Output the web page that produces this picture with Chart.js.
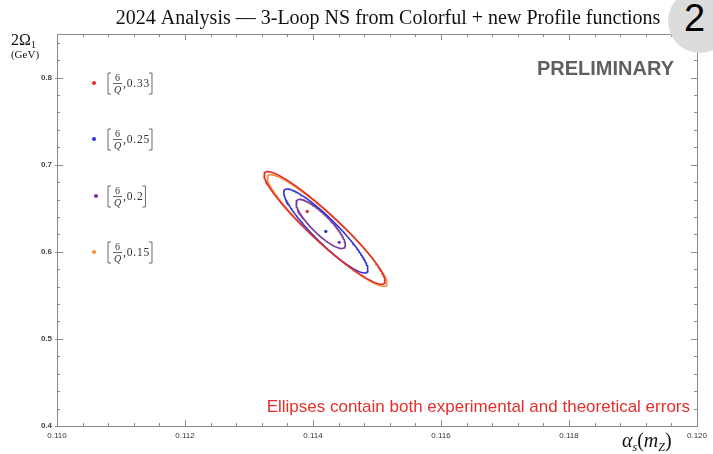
<!DOCTYPE html>
<html><head><meta charset="utf-8">
<script src="https://cdn.jsdelivr.net/npm/chart.js@4.4.1/dist/chart.umd.min.js"></script>
<style>
html,body{margin:0;padding:0;background:#fff;}
#wrap{position:relative;width:713px;height:454px;overflow:hidden;background:#fff;}
canvas{display:block;}
#badge{position:absolute;left:668px;top:-11px;width:64px;height:64px;border-radius:50%;background:#dcdcdc;}
#badge span{position:absolute;left:16px;top:10px;font:38px "Liberation Sans",Arial,sans-serif;color:#000;line-height:38px;}
</style></head>
<body><div id="wrap"><canvas id="c" width="713" height="454"></canvas><div id="badge"><span>2</span></div></div>
<script>
// ---- data ----
const profileValues = ['0.33', '0.25', '0.2', '0.15'];
const seriesNames = ['[6/Q, 0.33]', '[6/Q, 0.25]', '[6/Q, 0.2]', '[6/Q, 0.15]'];
const seriesColors = ['#e3302c', '#3535d6', '#7a3a96', '#f2933f'];
// uncertainty ellipses (centre, half-extent in x and y, correlation)
const ellipseCenterX = [0.11418, 0.11420, 0.11412, 0.11422];
const ellipseCenterY = [0.6274, 0.6239, 0.6320, 0.6245];
const ellipseSigmaX  = [0.000945, 0.000658, 0.000385, 0.000935];
const ellipseSigmaY  = [0.0647, 0.0482, 0.0282, 0.0641];
const ellipseRho     = [-0.942, -0.919, -0.851, -0.944];
// central values (best fits)
const centralX = [0.11391, 0.11420, 0.11441];
const centralY = [0.6463, 0.6234, 0.6108];
const centralColors = ['#e3302c', '#3535d6', '#7a3a96'];
// axes
const xTicks = [0.110, 0.112, 0.114, 0.116, 0.118, 0.120];
const yTicks = [0.4, 0.5, 0.6, 0.7, 0.8];
const xRange = [0.110, 0.120];
const yRange = [0.4, 0.85];

function ellipsePoints(i, n) {
  const pts = [];
  const r = ellipseRho[i], s = Math.sqrt(1 - r * r);
  for (let k = 0; k <= n; k++) {
    const t = 2 * Math.PI * k / n;
    pts.push({x: ellipseCenterX[i] + ellipseSigmaX[i] * Math.cos(t),
              y: ellipseCenterY[i] + ellipseSigmaY[i] * (r * Math.cos(t) + s * Math.sin(t))});
  }
  return pts;
}

const datasets = [];
for (let i = 0; i < seriesNames.length; i++) {
  datasets.push({label: seriesNames[i], data: ellipsePoints(i, 240), showLine: true,
    borderColor: seriesColors[i], borderWidth: 1.6, pointRadius: 0, fill: false, tension: 0});
}
datasets.push({label: 'central values', data: centralX.map((x, i) => ({x: x, y: centralY[i]})),
  showLine: false, pointRadius: 1.7, pointBackgroundColor: centralColors, pointBorderWidth: 0});

const FRAME = '#8c8c8c';
const decor = {
  id: 'decor',
  afterDraw(chart) {
    const ctx = chart.ctx, a = chart.chartArea, xs = chart.scales.x, ys = chart.scales.y;
    ctx.save();
    // frame
    ctx.strokeStyle = FRAME; ctx.lineWidth = 1;
    ctx.strokeRect(Math.round(a.left) + 0.5, Math.round(a.top) + 0.5, Math.round(a.right - a.left), Math.round(a.bottom - a.top));
    // ticks (inside, on all four sides)
    ctx.beginPath();
    const xt = (v, len) => { const p = Math.round(xs.getPixelForValue(v)) + 0.5;
      ctx.moveTo(p, a.bottom); ctx.lineTo(p, a.bottom - len); ctx.moveTo(p, a.top); ctx.lineTo(p, a.top + len); };
    const yt = (v, len) => { const p = Math.round(ys.getPixelForValue(v)) + 0.5;
      ctx.moveTo(a.left, p); ctx.lineTo(a.left + len, p); ctx.moveTo(a.right, p); ctx.lineTo(a.right - len, p); };
    for (let k = 0; k <= 25; k++) { const v = xRange[0] + k * 0.0004; xt(v, k % 5 === 0 ? 6 : 3); }
    for (let k = 0; k <= 22; k++) { const v = yRange[0] + k * 0.02; yt(v, k % 5 === 0 ? 6 : 3); }
    yTicks.forEach(v => { const p = Math.round(ys.getPixelForValue(v)) + 0.5; ctx.moveTo(a.left - 2, p); ctx.lineTo(a.left, p); });
    ctx.stroke();

    // title
    ctx.fillStyle = '#111'; ctx.textAlign = 'center'; ctx.textBaseline = 'alphabetic';
    ctx.font = '20px "Liberation Serif", serif';
    ctx.fillText('2024 Analysis \u2014 3-Loop NS from Colorful + new Profile functions', 388, 24);

    // y-axis title
    ctx.textAlign = 'left';
    ctx.font = '16px "Liberation Serif", serif';
    ctx.fillText('2\u03A9', 11, 45);
    const w = ctx.measureText('2\u03A9').width;
    ctx.font = '10px "Liberation Serif", serif';
    ctx.fillText('1', 11 + w, 48);
    ctx.textAlign = 'center';
    ctx.font = '11px "Liberation Serif", serif';
    ctx.fillText('(GeV)', 25, 58);

    // x-axis title alpha_s(m_Z)
    let x = 622; const by = 447;
    ctx.textAlign = 'left';
    const piece = (t, f, dy) => { ctx.font = f; ctx.fillText(t, x, by + (dy || 0)); x += ctx.measureText(t).width; };
    piece('\u03B1', 'italic 20px "Liberation Serif", serif');
    piece('s', 'italic 12px "Liberation Serif", serif', 4);
    piece('(', '20px "Liberation Serif", serif');
    piece('m', 'italic 20px "Liberation Serif", serif');
    piece('Z', 'italic 12px "Liberation Serif", serif', 4);
    piece(')', '20px "Liberation Serif", serif');

    // PRELIMINARY
    ctx.fillStyle = '#5f5f5f'; ctx.textAlign = 'right';
    ctx.font = 'bold 20px "Liberation Sans", Arial, sans-serif';
    ctx.fillText('PRELIMINARY', 674, 75);

    // note
    ctx.fillStyle = '#e3302c';
    ctx.font = '17px "Liberation Sans", Arial, sans-serif';
    ctx.fillText('Ellipses contain both experimental and theoretical errors', 690, 412);

    // legend
    const ly = [83, 139, 196, 252];
    for (let i = 0; i < profileValues.length; i++) {
      const cy = ly[i];
      ctx.fillStyle = seriesColors[i];
      ctx.beginPath(); ctx.arc(i === 2 ? 96 : 94, cy, 2.1, 0, 2 * Math.PI); ctx.fill();
      ctx.fillStyle = '#333'; ctx.strokeStyle = '#444'; ctx.lineWidth = 0.8;
      const bx = 108;
      ctx.beginPath(); ctx.moveTo(bx + 3, cy - 10); ctx.lineTo(bx, cy - 10); ctx.lineTo(bx, cy + 11); ctx.lineTo(bx + 3, cy + 11); ctx.stroke();
      ctx.textAlign = 'center';
      ctx.font = '10px "Liberation Serif", serif';
      ctx.fillText('6', bx + 9.5, cy - 2);
      ctx.beginPath(); ctx.moveTo(bx + 5, cy + 0.5); ctx.lineTo(bx + 14, cy + 0.5); ctx.stroke();
      ctx.font = 'italic 10px "Liberation Serif", serif';
      ctx.fillText('Q', bx + 9.5, cy + 10);
      ctx.textAlign = 'left';
      ctx.font = '11.5px "Liberation Serif", serif';
      ctx.letterSpacing = '0.8px';
      const t = ',' + profileValues[i];
      ctx.fillText(t, bx + 15, cy + 4);
      const ex = bx + 15 + ctx.measureText(t).width + 2;
      ctx.letterSpacing = '0px';
      ctx.beginPath(); ctx.moveTo(ex - 3, cy - 10); ctx.lineTo(ex, cy - 10); ctx.lineTo(ex, cy + 11); ctx.lineTo(ex - 3, cy + 11); ctx.stroke();
    }
    ctx.restore();
  }
};

new Chart(document.getElementById('c'), {
  type: 'scatter',
  data: {datasets: datasets},
  options: {
    responsive: false, animation: false,
    layout: {padding: {left: 0, right: 16, top: 34, bottom: 0}},
    plugins: {legend: {display: false}, tooltip: {enabled: false}, title: {display: false}},
    scales: {
      x: {type: 'linear', min: xRange[0], max: xRange[1],
        afterBuildTicks: s => { s.ticks = xTicks.map(v => ({value: v})); },
        afterFit: s => { s.height = 28; },
        ticks: {callback: v => Number(v).toFixed(3), font: {size: 8, family: '"Liberation Sans", Arial, sans-serif'}, color: '#333', padding: 5, maxRotation: 0, autoSkip: false},
        grid: {display: false, drawTicks: false}, border: {display: false}},
      y: {type: 'linear', min: yRange[0], max: yRange[1],
        afterBuildTicks: s => { s.ticks = yTicks.map(v => ({value: v})); },
        afterFit: s => { s.width = 57; },
        ticks: {callback: v => Number(v).toFixed(1), font: {size: 8, weight: 'bold', family: '"Liberation Sans", Arial, sans-serif'}, color: '#444', padding: 5, autoSkip: false},
        grid: {display: false, drawTicks: false}, border: {display: false}}
    }
  },
  plugins: [decor]
});
</script></body></html>
